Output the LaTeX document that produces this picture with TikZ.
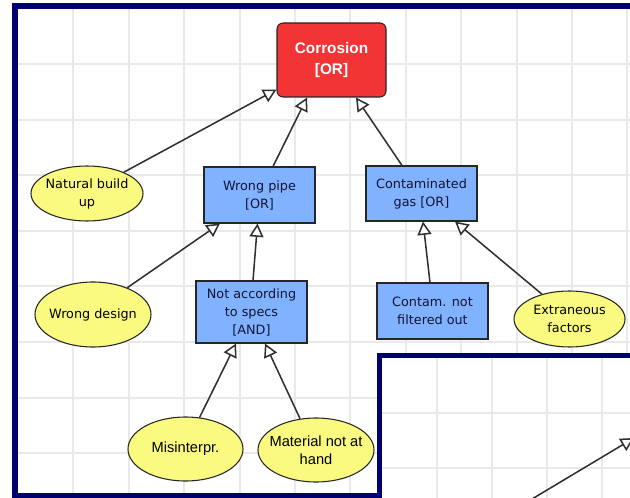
\documentclass[tikz,border=0pt]{standalone}
\usepackage{fontspec}
\setmainfont{DejaVu Sans}
\newfontfamily\arialfont{Liberation Sans}
\usetikzlibrary{arrows.meta,calc,shapes.geometric}

\definecolor{framenavy}{HTML}{00006E}
\definecolor{gridgray}{HTML}{E9E9E9}
\definecolor{gatered}{HTML}{F23434}
\definecolor{eventblue}{HTML}{80B2FF}
\definecolor{leafyellow}{HTML}{FAFA80}
\definecolor{edgegray}{HTML}{303030}
\definecolor{boxtext}{HTML}{141432}

\begin{document}
\begin{tikzpicture}[x=0.75pt,y=-0.75pt,
  frameline/.style={draw=framenavy,line width=4.5pt},
  gridline/.style={draw=gridgray,line width=1.5pt},
  topgate/.style={draw=black!85,line width=0.8pt,fill=gatered,rounded corners=4.5pt,
    text=white,font=\arialfont\bfseries\fontsize{11.5}{16}\selectfont,align=center,inner sep=0pt},
  event/.style={draw=black!85,line width=0.8pt,fill=eventblue,text=boxtext,
    font=\fontsize{9.6}{13.5}\selectfont,align=center,inner sep=0pt},
  leaf/.style={ellipse,draw=black!85,line width=0.8pt,fill=leafyellow,inner sep=0pt},
  leaftext/.style={font=\fontsize{9.6}{13.5}\selectfont,align=center,text=black},
  leaftextb/.style={font=\arialfont\fontsize{11}{13.5}\selectfont,align=center,text=black},
  link/.style={draw=edgegray,line width=1.15pt,-{Triangle[length=10pt,width=10.5pt,fill=white]}},
]
\useasboundingbox (0,0) rectangle (630,498);
\clip (0,0) rectangle (630,498);
\fill[white] (0,0) rectangle (630,498);

% grid of the main window
\foreach \k in {1,...,11} \draw[gridline] ({18+55.4*\k},9) -- ({18+55.4*\k},493);
\foreach \k in {1,...,8} \draw[gridline] (18,{9+55.5*\k}) -- (640,{9+55.5*\k});

% main window frame
\draw[frameline] (15,6) rectangle (700,495.5);

% second window overlapping the lower right corner
\fill[white] (379.5,355.5) rectangle (700,600);
\foreach \k in {1,...,5} \draw[gridline] ({382+55*\k},358) -- ({382+55*\k},600);
\foreach \k in {1,2,3} \draw[gridline] (382,{358+55*\k}) -- (700,{358+55*\k});
\draw[frameline,line width=3.75pt] (379.5,600) -- (379.5,355.5) -- (700,355.5);
\coordinate (w0) at (527,502);
\coordinate (w1) at (634,438);
\draw[link] (w0) -- (w1);

% fault tree: gates and events
\node[topgate, minimum width=81.75pt, minimum height=55.5pt] (cor) at (331.5,60) {Corrosion\\{[OR]}};
\node[event, minimum width=83.25pt, minimum height=42pt] (wp) at (259.5,195) {Wrong pipe\\{[OR]}};
\node[event, minimum width=83.25pt, minimum height=41.25pt] (cg) at (421.5,193.5) {Contaminated\\gas [OR]};
\node[event, minimum width=83.25pt, minimum height=46.5pt] (na) at (251.5,312) {Not according\\to specs\\{[AND]}};
\node[event, minimum width=83.25pt, minimum height=42pt] (cn) at (432.5,311) {Contam. not\\filtered out};

\node[leaf, minimum width=84pt, minimum height=41.25pt,
  label={[leaftext]center:{Natural build\\up}}] (nat) at (87,193.5) {};
\node[leaf, minimum width=87pt, minimum height=48.75pt,
  label={[leaftext]center:Wrong design}] (wd) at (93,314.5) {};
\node[leaf, minimum width=83.25pt, minimum height=42pt,
  label={[leaftext]center:{Extraneous\\factors}}] (ef) at (569.5,319) {};
\node[leaf, minimum width=86.25pt, minimum height=48pt,
  label={[leaftextb]center:Misinterpr.}] (mis) at (185.5,449) {};
\node[leaf, minimum width=87pt, minimum height=48pt,
  label={[leaftextb]center:{Material not at\\hand}}] (mat) at (316,450) {};

% connectors, child to parent
\draw[link] (nat.30) -- ($(cor.south west)+(0,-8)$);
\draw[link] ($(wp.north)+(13.5,0)$) -- ($(cor.south)+(-24.5,0)$);
\draw[link] ($(cg.north)+(-19.5,0)$) -- ($(cor.south)+(24.5,0)$);
\draw[link] (wd.38) -- ($(wp.south)+(-39.5,0)$);
\draw[link] ($(na.north)+(1.5,0)$) -- ($(wp.south)+(-2,0)$);
\draw[link] ($(cn.north)+(-2.5,0)$) -- ($(cg.south)+(1.5,0)$);
\draw[link] (ef.138) -- ($(cg.south)+(33.5,0)$);
\draw[link] (mis.66) -- ($(na.south)+(-15.5,0)$);
\draw[link] (mat.117) -- ($(na.south)+(13.5,0)$);
\end{tikzpicture}
\end{document}
